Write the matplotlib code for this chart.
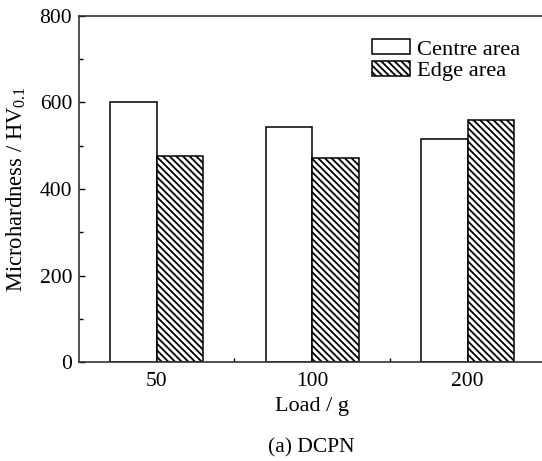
import matplotlib
matplotlib.use("Agg")
import matplotlib.pyplot as plt
import numpy as np
from matplotlib.ticker import MultipleLocator, FixedLocator

loads = ["50", "100", "200"]
centre_area = [600, 542, 515]
edge_area = [477, 471, 560]
y_ticks = [0, 200, 400, 600, 800]

plt.rcParams['font.family'] = ['Liberation Serif', 'DejaVu Serif']
plt.rcParams['mathtext.fontset'] = 'custom'
plt.rcParams['mathtext.rm'] = 'Liberation Serif'
plt.rcParams['mathtext.it'] = 'Liberation Serif:italic'
plt.rcParams['hatch.linewidth'] = 1.3

fig = plt.figure(figsize=(5.42, 4.61), dpi=100)
ax = fig.add_axes([79/542, 1-362.3/461, (545.4-79)/542, (362.3-15.5)/461])

x = np.arange(1, len(loads)+1)
w = 0.3
ax.bar(x - w/2, centre_area, width=w, facecolor='white', edgecolor='black', linewidth=1.1, label='Centre area')
ax.bar(x + w/2, edge_area, width=w, facecolor='white', edgecolor='black', linewidth=1.1, hatch='\\' * 5, label='Edge area')

ax.set_xlim(0.5, 3.5)
ax.set_ylim(0, 800)
ax.set_yticks(y_ticks)
ax.yaxis.set_minor_locator(MultipleLocator(100))
ax.set_xticks(x)
ax.set_xticklabels(loads)
ax.xaxis.set_minor_locator(FixedLocator([1.5, 2.5]))

ax.tick_params(axis='both', which='both', direction='in', labelsize=15.5, colors='black')
ax.tick_params(axis='y', which='major', length=4.5, width=1, pad=5)
ax.tick_params(axis='y', which='minor', length=3, width=1)
ax.tick_params(axis='x', which='major', length=0, pad=7)
ax.tick_params(axis='x', which='minor', length=3, width=1)
ax.tick_params(right=False, top=False)

for s in ax.spines.values():
    s.set_linewidth(1.2)
    s.set_color('#333333')

ax.set_ylabel(r"Microhardness / HV$_{\mathrm{0.1}}$", fontsize=16.3, labelpad=8)
ax.set_xlabel("Load / g", fontsize=16, labelpad=4)

leg = ax.legend(loc='upper left', bbox_to_anchor=(372/542, 1-39/461), bbox_transform=fig.transFigure,
                frameon=False, fontsize=16.2, handlelength=1.7, handleheight=0.68,
                handletextpad=0.3, labelspacing=0.05, borderpad=0, borderaxespad=0)

fig.text(311.7/542, 1-448/461, "(a) DCPN", ha='center', va='center', fontsize=15.5)

fig.savefig("out.png", dpi=100, facecolor='white')
